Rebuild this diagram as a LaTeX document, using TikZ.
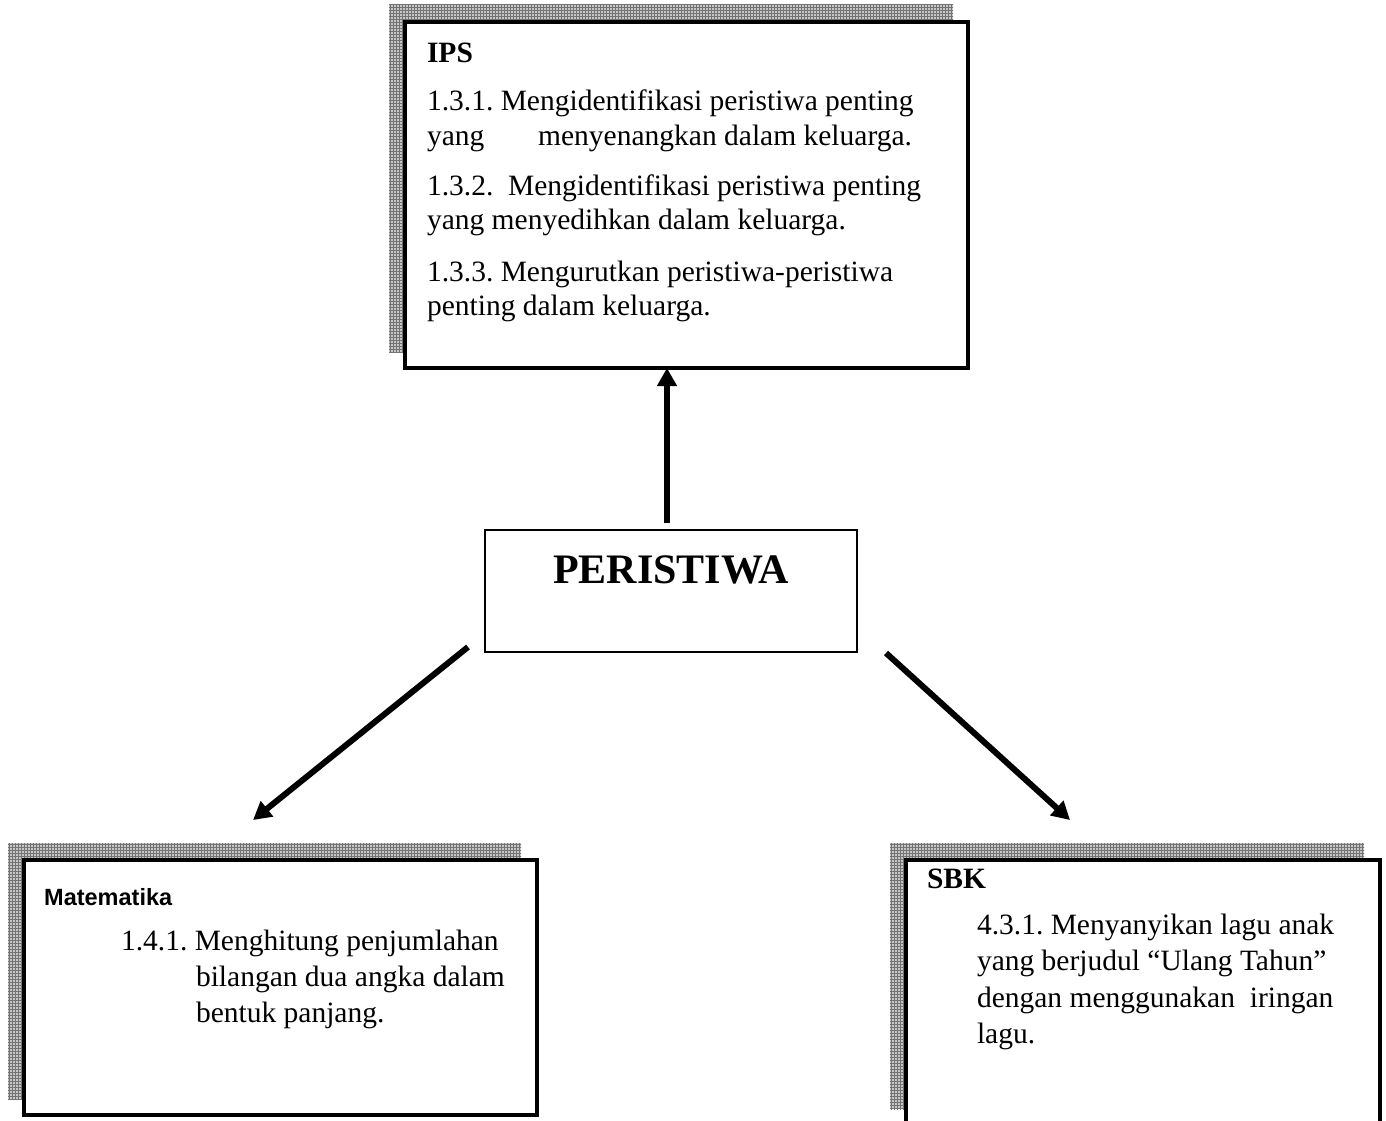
\documentclass[tikz,border=0pt]{standalone}
\usepackage{fontspec}
\setmainfont{Liberation Serif}
\newfontfamily\arialfont{Liberation Sans}
\usetikzlibrary{arrows.meta,patterns}
\begin{document}
\frenchspacing
\begin{tikzpicture}[x=1pt,y=-1pt,
  shadowfill/.style={fill=gray!45},
  shadowgrid/.style={pattern=grid,pattern color=gray!110},
  mainbox/.style={draw=black,line width=4pt,fill=white,inner sep=0pt,outer sep=0pt},
  txt/.style={anchor=base west,inner sep=0pt,outer sep=0pt,font=\fontsize{29.5}{35}\selectfont},
  hd/.style={anchor=base west,inner sep=0pt,outer sep=0pt,font=\fontsize{29.5}{35}\selectfont\bfseries},
  conn/.style={line width=6pt,-{Triangle[length=18pt,width=19pt]}}
]
\clip (0,0) rectangle (1386,1120);
\fill[white] (0,0) rectangle (1386,1120);
% shadows
\foreach \a/\b/\c/\d in {389/4/953/352, 8/843/521/1099, 890/843/1364/1109}{
  \fill[shadowfill] (\a,\b) rectangle (\c,\d);
  \fill[shadowgrid] (\a,\b) rectangle (\c,\d);
}
% boxes
\node[mainbox,minimum width=563pt,minimum height=346pt] (ips) at (686.5,195) {};
\node[mainbox,minimum width=513pt,minimum height=255pt] (mat) at (280.5,987.5) {};
\node[mainbox,minimum width=474pt,minimum height=265pt] (sbk) at (1143,992.5) {};
\node[draw=black,line width=1.5pt,fill=white,minimum width=372pt,minimum height=122pt,inner sep=0pt] (peri) at (671,591) {};
% IPS text
\node[hd] (ipsh) at (427,62) {IPS};
\node[txt] (ips1) at (427,110) {1.3.1. Mengidentifikasi peristiwa penting};
\node[txt] (ips2) at (427,145) {\hbox to 485pt{yang\hfill menyenangkan dalam keluarga.}};
\node[txt] (ips3) at (427,195) {1.3.2.\ \ Mengidentifikasi peristiwa penting};
\node[txt] (ips4) at (427,229) {yang menyedihkan dalam keluarga.};
\node[txt] (ips5) at (427,281) {1.3.3. Mengurutkan peristiwa-peristiwa};
\node[txt] (ips6) at (427,315) {penting dalam keluarga.};
% PERISTIWA
\node[anchor=base,inner sep=0pt,font=\fontsize{42}{48}\selectfont\bfseries] (perit) at (671,583) {PERISTIWA};
% Matematika text
\node[anchor=base west,inner sep=0pt,font=\fontsize{23.5}{28}\selectfont\arialfont\bfseries] (math) at (44,905) {Matematika};
\node[txt] (mat1) at (121,950) {1.4.1. Menghitung penjumlahan};
\node[txt] (mat2) at (196,986) {bilangan dua angka dalam};
\node[txt] (mat3) at (196,1022) {bentuk panjang.};
% SBK text
\node[hd] (sbkh) at (927,888) {SBK};
\node[txt] (sbk1) at (977,934) {4.3.1. Menyanyikan lagu anak};
\node[txt] (sbk2) at (977,970) {yang berjudul “Ulang Tahun”};
\node[txt] (sbk3) at (977,1007) {dengan menggunakan\ \ iringan};
\node[txt] (sbk4) at (977,1043) {lagu.};
% connectors
\coordinate (ua) at (667,523);
\coordinate (la) at (468,647);
\coordinate (lb) at (253,820);
\coordinate (ra) at (886,653);
\coordinate (rb) at (1070,820);
\draw[conn] (ua) -- (ua |- ips.south);
\draw[conn] (la) -- (lb);
\draw[conn] (ra) -- (rb);
\end{tikzpicture}
\end{document}
